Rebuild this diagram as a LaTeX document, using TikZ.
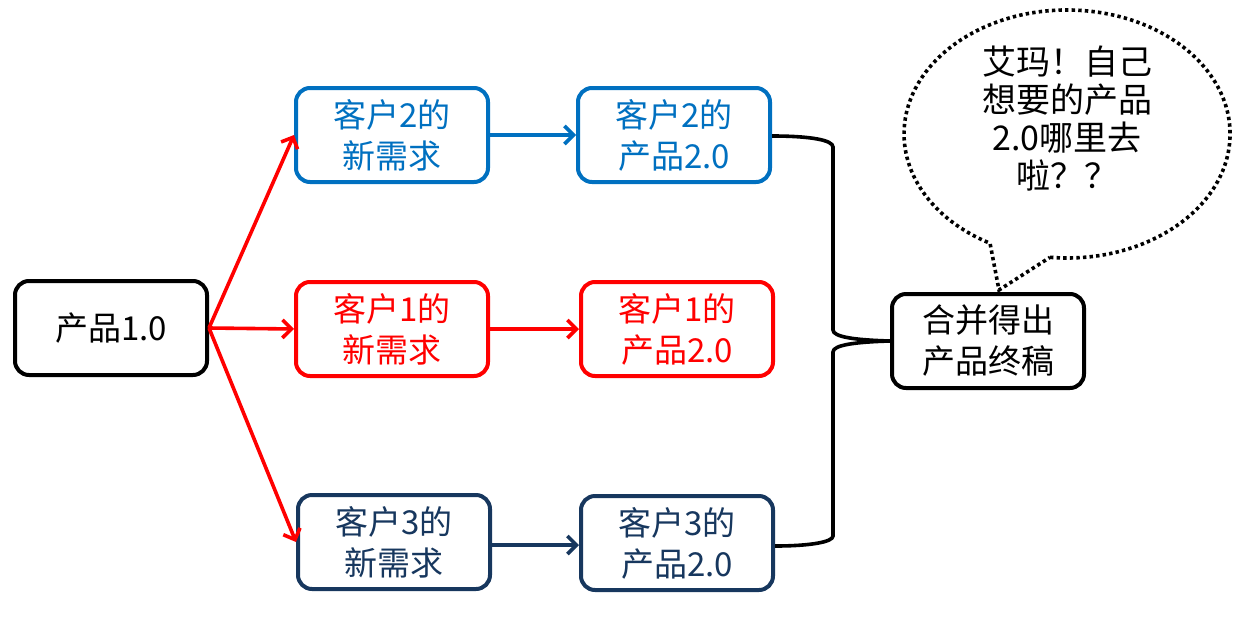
\documentclass[tikz,border=0pt]{standalone}
\usepackage{fontspec}
\setmainfont{Noto Sans CJK SC}
\usetikzlibrary{arrows.meta}
\definecolor{cblue}{RGB}{0,112,192}
\definecolor{cred}{RGB}{255,0,0}
\definecolor{cnavy}{RGB}{23,55,94}
\tikzset{
  box/.style={draw, line width=4pt, rounded corners=14pt, minimum width=192pt, minimum height=94pt,
    align=center, inner sep=0pt, font=\fontsize{33}{41}\selectfont},
  arr/.style={line width=3.6pt, -{Straight Barb[length=9pt,width=18pt,line width=3.6pt]}},
  br/.style={line width=3.6pt, black},
}
\begin{document}
\begin{tikzpicture}[x=1pt,y=-1pt]
\useasboundingbox (0,0) rectangle (1248,622);
\node[box] (p1) at (111,328) {产品1.0};
\node[box, cblue] (n2) at (392,135) {客户2的\\新需求};
\node[box, cblue] (q2) at (674,135) {客户2的\\产品2.0};
\node[box, cred] (n1) at (392,329) {客户1的\\新需求};
\node[box, cred] (q1) at (677,329) {客户1的\\产品2.0};
\node[box, cnavy] (n3) at (394,542) {客户3的\\新需求};
\node[box, cnavy] (q3) at (677,543) {客户3的\\产品2.0};
\node[box] (m) at (988,341) {合并得出\\产品终稿};

\draw[arr, cred] (p1.east) -- (n2.west);
\draw[arr, cred] (p1.east) -- (n1.west);
\draw[arr, cred] (p1.east) -- (n3.west);
\draw[arr, cblue] (n2.east) -- (q2.west);
\draw[arr, cred] (n1.east) -- (q1.west);
\draw[arr, cnavy] (n3.east |- 0,545) -- (q3.west |- 0,545);

\draw[br] (q2.east |- 0,136) .. controls (810,136) and (833,140) .. (833,147) -- (833,330)
  .. controls (833,337) and (855,340) .. (m.west);
\draw[br] (q3.east |- 0,546) .. controls (810,546) and (833,542) .. (833,536) -- (833,352)
  .. controls (833,345) and (855,342) .. (m.west);

\coordinate (tip) at (999,290);
\draw[line width=3.6pt, dash pattern=on 3.4pt off 3.2pt] (1050,257.3)
  arc[start angle=264, end angle=601.8, x radius=163pt, y radius=124pt] -- (tip) -- cycle;
\node[align=center, font=\fontsize{34}{38}\selectfont] (bt) at (1067,119) {艾玛！自己\\想要的产品\\2.0哪里去\\啦？？};
\end{tikzpicture}
\end{document}
